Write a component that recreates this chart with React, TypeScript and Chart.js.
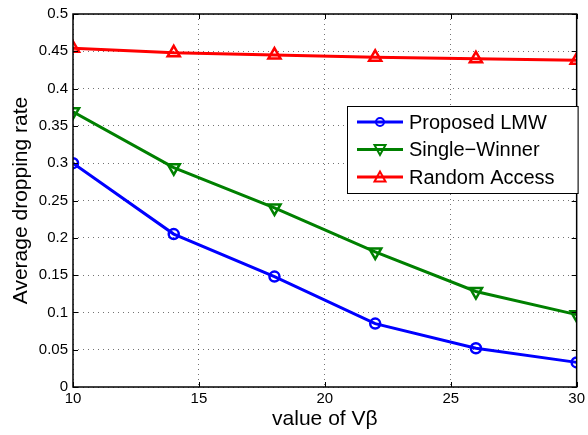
import React, { useEffect, useRef } from "react";
import { Chart, registerables } from "chart.js";

Chart.register(...registerables);

const xValues = [10, 14, 18, 22, 26, 30];
const proposedLMW = [0.3, 0.205, 0.148, 0.085, 0.052, 0.033];
const singleWinner = [0.369, 0.294, 0.24, 0.181, 0.128, 0.097];
const randomAccess = [0.454, 0.448, 0.445, 0.442, 0.44, 0.438];
const seriesNames = ["Proposed LMW", "Single\u2212Winner", "Random Access"];
const xTicks = [10, 15, 20, 25, 30];
const yTicks = [0, 0.05, 0.1, 0.15, 0.2, 0.25, 0.3, 0.35, 0.4, 0.45, 0.5];
const xTitle = "value of V\u03b2";
const yTitle = "Average dropping rate";

const FONT = "'Liberation Sans', Arial, Helvetica, sans-serif";

const boxTicksPlugin = {
  id: "boxTicks",
  afterDatasetsDraw(chart: any) {
    const { ctx, chartArea, scales } = chart;
    const { left, right, top, bottom } = chartArea;
    ctx.save();
    ctx.strokeStyle = "#000";
    ctx.lineWidth = 1;
    const len = 5;
    ctx.beginPath();
    for (const v of xTicks) {
      const px = Math.round(scales.x.getPixelForValue(v)) + 0.5;
      ctx.moveTo(px, bottom);
      ctx.lineTo(px, bottom - len);
      ctx.moveTo(px, top);
      ctx.lineTo(px, top + len);
    }
    for (const v of yTicks) {
      const py = Math.round(scales.y.getPixelForValue(v)) + 0.5;
      ctx.moveTo(left, py);
      ctx.lineTo(left + len, py);
      ctx.moveTo(right, py);
      ctx.lineTo(right - len, py);
    }
    ctx.stroke();
    ctx.lineWidth = 1.5;
    ctx.strokeRect(left, top, right - left, bottom - top);
    ctx.restore();
  },
};

const legendPlugin = {
  id: "matLegend",
  afterDraw(chart: any) {
    const { ctx, chartArea } = chart;
    const bx = chartArea.left + 274;
    const by = chartArea.top + 92;
    const bw = chartArea.right - bx + 1;
    const bh = 87;
    ctx.save();
    ctx.fillStyle = "#fff";
    ctx.fillRect(bx, by, bw, bh);
    ctx.strokeStyle = "#000";
    ctx.lineWidth = 1;
    ctx.strokeRect(bx + 0.5, by + 0.5, bw, bh);
    chart.data.datasets.forEach((ds: any, i: number) => {
      const cy = by + 16 + i * 27.5;
      const x0 = bx + 10;
      const x1 = bx + 56;
      const xm = (x0 + x1) / 2;
      ctx.strokeStyle = ds.borderColor;
      ctx.lineWidth = 3;
      ctx.beginPath();
      ctx.moveTo(x0, cy);
      ctx.lineTo(x1, cy);
      ctx.stroke();
      ctx.lineWidth = 2;
      ctx.beginPath();
      if (ds.pointStyle === "circle") {
        ctx.arc(xm, cy, 4, 0, Math.PI * 2);
      } else {
        const s = 5.5;
        const dir = ds.pointRotation === 180 ? -1 : 1;
        ctx.moveTo(xm, cy - dir * s);
        ctx.lineTo(xm - s, cy + dir * s * 0.8);
        ctx.lineTo(xm + s, cy + dir * s * 0.8);
        ctx.closePath();
      }
      ctx.stroke();
      ctx.fillStyle = "#000";
      ctx.font = `20px ${FONT}`;
      ctx.textBaseline = "middle";
      ctx.textAlign = "left";
      ctx.fillText(ds.label, bx + 62, cy + 1);
    });
    ctx.restore();
  },
};

export default function App() {
  const ref = useRef<HTMLCanvasElement>(null);
  useEffect(() => {
    const canvas = ref.current!;
    const mk = (label: string, data: number[], color: string, style: string, rot = 0, r = 6) => ({
      label,
      data: data.map((y, i) => ({ x: xValues[i], y })),
      borderColor: color,
      backgroundColor: color,
      borderWidth: 3,
      pointStyle: style,
      pointRotation: rot,
      pointRadius: r,
      pointBorderWidth: 2.5,
      pointBackgroundColor: "rgba(0,0,0,0)",
      pointBorderColor: color,
      tension: 0,
    });
    const chart = new Chart(canvas, {
      type: "line",
      data: {
        datasets: [
          mk(seriesNames[0], proposedLMW, "#0000ff", "circle", 0, 5),
          mk(seriesNames[1], singleWinner, "#008000", "triangle", 180, 7),
          mk(seriesNames[2], randomAccess, "#ff0000", "triangle", 0, 7),
        ],
      },
      options: {
        animation: false,
        responsive: false,
        devicePixelRatio: 1,
        layout: { padding: { top: 12, right: 8, left: 0, bottom: 0 } },
        plugins: { legend: { display: false }, tooltip: { enabled: false } },
        scales: {
          x: {
            type: "linear",
            min: 10,
            max: 30,
            afterBuildTicks: (s: any) => {
              s.ticks = xTicks.map((v) => ({ value: v }));
            },
            afterFit: (s: any) => {
              s.height = 48;
            },
            ticks: {
              color: "#000",
              font: { family: FONT, size: 15 },
              padding: 3,
              maxRotation: 0,
              callback: (v: any) => String(v),
            },
            grid: {
              color: "rgba(0,0,0,0.55)",
              lineWidth: 1,
              drawTicks: false,
            },
            border: { display: false, dash: [1, 4] } as any,
            title: {
              display: true,
              text: xTitle,
              color: "#000",
              font: { family: FONT, size: 21 },
              padding: { top: 0, bottom: 3 },
            },
          },
          y: {
            type: "linear",
            min: 0,
            max: 0.5,
            afterBuildTicks: (s: any) => {
              s.ticks = yTicks.map((v) => ({ value: v }));
            },
            afterFit: (s: any) => {
              s.width = 73;
            },
            ticks: {
              color: "#000",
              font: { family: FONT, size: 15 },
              padding: 5,
              callback: (v: any) => String(Number(v.toFixed(2))),
            },
            grid: {
              color: "rgba(0,0,0,0.55)",
              lineWidth: 1,
              drawTicks: false,
            },
            border: { display: false, dash: [1, 4] } as any,
            title: {
              display: true,
              text: yTitle,
              color: "#000",
              font: { family: FONT, size: 21 },
              padding: { top: 9, bottom: 0 },
            },
          },
        },
      },
      plugins: [boxTicksPlugin, legendPlugin],
    } as any);
    return () => chart.destroy();
  }, []);
  return (
    <div style={{ position: "fixed", left: 0, top: 0, width: 588, height: 435, background: "#fff" }}>
      <canvas ref={ref} width={588} height={435} />
    </div>
  );
}
